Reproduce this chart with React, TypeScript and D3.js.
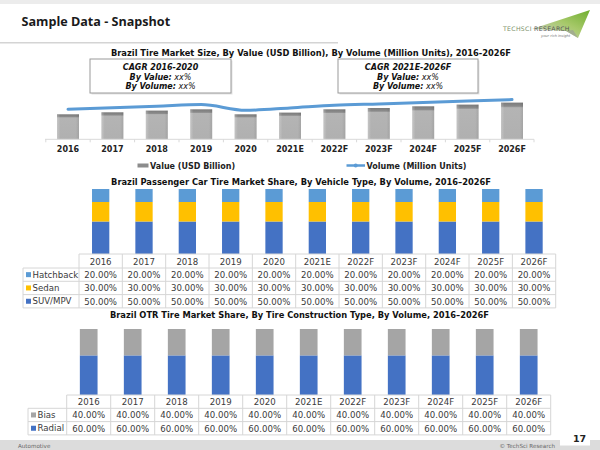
import React from "react";
import * as d3 from "d3";

// ---------- data ----------
const years = ["2016", "2017", "2018", "2019", "2020", "2021E", "2022F", "2023F", "2024F", "2025F", "2026F"];
const valueUSD = [2.5, 2.7, 2.87, 3.0, 2.5, 2.67, 3.0, 3.13, 3.3, 3.47, 3.67];
const volumeUnits = [60, 63, 66, 69.4, 58, 62.6, 68, 70.8, 73.6, 76.4, 79.4];

const pcSeries = ["Hatchback", "Sedan", "SUV/MPV"];
const pcHatchback = [0.2, 0.2, 0.2, 0.2, 0.2, 0.2, 0.2, 0.2, 0.2, 0.2, 0.2];
const pcSedan = [0.3, 0.3, 0.3, 0.3, 0.3, 0.3, 0.3, 0.3, 0.3, 0.3, 0.3];
const pcSuv = [0.5, 0.5, 0.5, 0.5, 0.5, 0.5, 0.5, 0.5, 0.5, 0.5, 0.5];

const otrSeries = ["Bias", "Radial"];
const otrBias = [0.4, 0.4, 0.4, 0.4, 0.4, 0.4, 0.4, 0.4, 0.4, 0.4, 0.4];
const otrRadial = [0.6, 0.6, 0.6, 0.6, 0.6, 0.6, 0.6, 0.6, 0.6, 0.6, 0.6];

const cagrLeft = ["CAGR 2016-2020", "By Value:", "By Volume:"];
const cagrRight = ["CAGR 2021E-2026F", "By Value:", "By Volume:"];

const FONT = "'DejaVu Sans', Verdana, sans-serif";
const pct = d3.format(".2%");

type Series = { name: string; values: number[]; color: string };

function StackTable(props: {
  x0: number; x1: number; labelX: number; barTop: number; tableTop: number;
  headerH: number; rowH: number; barW: number; series: Series[];
}) {
  const { x0, x1, labelX, barTop, tableTop, headerH, rowH, barW, series } = props;
  const x = d3.scaleBand<string>().domain(years).range([x0, x1]).padding(0);
  const y = d3.scaleLinear().domain([0, 1]).range([tableTop, barTop]);
  const stackOrder = [...series].reverse();
  const rows = years.map((yr, i) => {
    const o: any = { year: yr };
    stackOrder.forEach((s) => (o[s.name] = s.values[i]));
    return o;
  });
  const stacked = d3.stack<any>().keys(stackOrder.map((s) => s.name))(rows);
  const bw = x.bandwidth();
  const tableBottom = tableTop + headerH + rowH * series.length;
  const lc = "#d6d6d6";
  return (
    <g>
      {stacked.map((layer, li) => (
        <g key={layer.key} fill={stackOrder[li].color}>
          {layer.map((d, i) => (
            <rect key={i} x={x(years[i])! + bw / 2 - barW / 2} y={y(d[1])} width={barW} height={y(d[0]) - y(d[1])} />
          ))}
        </g>
      ))}
      <g stroke={lc} strokeWidth={1} fill="none">
        <line x1={x0} x2={x1} y1={tableTop} y2={tableTop} />
        <line x1={labelX} x2={x1} y1={tableTop + headerH} y2={tableTop + headerH} />
        {series.map((s, i) => (
          <line key={s.name} x1={labelX} x2={x1} y1={tableTop + headerH + rowH * (i + 1)} y2={tableTop + headerH + rowH * (i + 1)} />
        ))}
        <line x1={labelX} x2={labelX} y1={tableTop + headerH} y2={tableBottom} />
        {years.map((yr) => (
          <line key={yr} x1={x(yr)!} x2={x(yr)!} y1={tableTop} y2={tableBottom} />
        ))}
        <line x1={x1} x2={x1} y1={tableTop} y2={tableBottom} />
      </g>
      <g fontFamily={FONT} fontSize={8.6} fill="#3a3a3a" textAnchor="middle">
        {years.map((yr) => (
          <text key={yr} x={x(yr)! + bw / 2} y={tableTop + headerH - 3.5}>{yr}</text>
        ))}
        {series.map((s, si) =>
          s.values.map((v, i) => (
            <text key={s.name + i} x={x(years[i])! + bw / 2} y={tableTop + headerH + rowH * (si + 1) - 3.3}>{pct(v)}</text>
          ))
        )}
      </g>
      <g fontFamily={FONT} fontSize={8.6} fill="#3a3a3a">
        {series.map((s, si) => {
          const cy = tableTop + headerH + rowH * si + rowH / 2;
          return (
            <g key={s.name}>
              <rect x={labelX + 3} y={cy - 2.5} width={5} height={5} fill={s.color} />
              <text x={labelX + 9.5} y={cy + 3.2}>{s.name}</text>
            </g>
          );
        })}
      </g>
    </g>
  );
}

function CagrBox(props: { x: number; y: number; w: number; h: number; lines: string[] }) {
  const { x, y, w, h, lines } = props;
  const cx = x + w / 2;
  return (
    <g>
      <rect x={x + 1.5} y={y + 1.5} width={w} height={h} fill="#e4e4e4" />
      <rect x={x} y={y} width={w} height={h} fill="#fff" stroke="#9a9a9a" strokeWidth={1} />
      <g fontFamily={FONT} fontSize={8} fontStyle="italic" fill="#111" textAnchor="middle">
        <text x={cx} y={y + 11} fontWeight="bold">{lines[0]}</text>
        <text x={cx} y={y + 20.5}><tspan fontWeight="bold">{lines[1]}</tspan> xx%</text>
        <text x={cx} y={y + 30}><tspan fontWeight="bold">{lines[2]}</tspan> xx%</text>
      </g>
    </g>
  );
}

function TopChart() {
  const base = 139.3;
  const x = d3.scaleBand<string>().domain(years).range([45.8, 534.2]).padding(0);
  const yVal = d3.scaleLinear().domain([0, 4]).range([base, base - 40]);
  const yVol = d3.scaleLinear().domain([0, 80]).range([base, base - 40]);
  const bw = x.bandwidth();
  const barW = 22;
  const line = d3
    .line<number>()
    .x((_, i) => x(years[i])! + bw / 2)
    .y((d) => yVol(d))
    .curve(d3.curveMonotoneX);
  return (
    <g>
      <defs>
        <linearGradient id="barG" x1="0" y1="0" x2="0" y2="1">
          <stop offset="0" stopColor="#7a7a7a" />
          <stop offset="0.1" stopColor="#8c8c8c" />
          <stop offset="0.14" stopColor="#b4b4b4" />
          <stop offset="1" stopColor="#b0b0b0" />
        </linearGradient>
        <linearGradient id="barH" x1="0" y1="0" x2="1" y2="0">
          <stop offset="0" stopColor="#ffffff" stopOpacity="0.25" />
          <stop offset="0.15" stopColor="#ffffff" stopOpacity="0" />
          <stop offset="0.85" stopColor="#000000" stopOpacity="0" />
          <stop offset="1" stopColor="#000000" stopOpacity="0.08" />
        </linearGradient>
      </defs>
      {valueUSD.map((v, i) => {
        const bx = x(years[i])! + bw / 2 - barW / 2;
        return (
          <g key={i}>
            <rect x={bx} y={yVal(v)} width={barW} height={base - yVal(v)} fill="url(#barG)" />
            <rect x={bx} y={yVal(v)} width={barW} height={base - yVal(v)} fill="url(#barH)" />
          </g>
        );
      })}
      <line x1={45} x2={534} y1={base} y2={base} stroke="#d9d9d9" strokeWidth={1} />
      {years.map((yr) => (
        <line key={yr} x1={x(yr)!} x2={x(yr)!} y1={base} y2={base + 3} stroke="#d9d9d9" />
      ))}
      <line x1={534} x2={534} y1={base} y2={base + 3} stroke="#d9d9d9" />
      <path d={line(volumeUnits)!} fill="none" stroke="#5b9bd5" strokeWidth={3} strokeLinecap="round" />
      <g fontFamily={FONT} fontSize={8} fontWeight="bold" fill="#222" textAnchor="middle">
        {years.map((yr) => (
          <text key={yr} x={x(yr)! + bw / 2} y={152}>{yr}</text>
        ))}
      </g>
      <g fontFamily={FONT} fontSize={8} fontWeight="bold" fill="#222">
        <rect x={137.5} y={163.5} width={11} height={4} fill="#8c8c8c" />
        <text x={150} y={168.5}>Value (USD Billion)</text>
        <line x1={346.5} x2={365} y1={165.5} y2={165.5} stroke="#5b9bd5" strokeWidth={2.5} />
        <circle cx={355.7} cy={165.5} r={2} fill="#5b9bd5" />
        <text x={366.5} y={168.5}>Volume (Million Units)</text>
      </g>
    </g>
  );
}

function Logo() {
  return (
    <g>
      <defs>
        <linearGradient id="logoG" x1="0" y1="1" x2="1" y2="0">
          <stop offset="0" stopColor="#d0d0d0" />
          <stop offset="0.55" stopColor="#a7c96a" />
          <stop offset="1" stopColor="#6fae2e" />
        </linearGradient>
      </defs>
      <polygon points="532,29 590,10 578,38 566,31" fill="url(#logoG)" />
      <polygon points="566,31 578,38 573,30" fill="#9a9a9a" opacity="0.6" />
      <text x={503} y={30.5} fontFamily={FONT} fontSize={6.2} fill="#7a8f6a" letterSpacing={0.3}>
        TECHSCI <tspan fill="#555">RESEARCH</tspan>
      </text>
      <text x={541} y={36.5} fontFamily={FONT} fontSize={3.6} fontStyle="italic" fill="#777">
        your rich insight
      </text>
    </g>
  );
}

export default function App() {
  const pc: Series[] = [
    { name: pcSeries[0], values: pcHatchback, color: "#5b9bd5" },
    { name: pcSeries[1], values: pcSedan, color: "#ffc000" },
    { name: pcSeries[2], values: pcSuv, color: "#4472c4" },
  ];
  const otr: Series[] = [
    { name: otrSeries[0], values: otrBias, color: "#a5a5a5" },
    { name: otrSeries[1], values: otrRadial, color: "#4472c4" },
  ];
  return (
    <svg width={600} height={450} style={{ position: "fixed", left: 0, top: 0, display: "block", background: "#fff" }}>
      <rect x={0} y={0} width={600} height={450} fill="#fff" />
      <rect x={0} y={0} width={600} height={4} fill="#ececec" />
      <text x={21.5} y={26} fontFamily="'Open Sans', sans-serif" fontWeight="bold" fontSize={12.6} fill="#1a1a1a">
        Sample Data - Snapshot
      </text>
      <line x1={0} x2={338} y1={42.7} y2={42.7} stroke="#d4d4d4" strokeWidth={1.5} />
      <Logo />

      <text x={311} y={55.5} fontFamily={FONT} fontSize={8.3} fontWeight="bold" fill="#111" textAnchor="middle">
        Brazil Tire Market Size, By Value (USD Billion), By Volume (Million Units), 2016-2026F
      </text>
      <TopChart />
      <CagrBox x={90} y={59} w={141} h={34} lines={cagrLeft} />
      <CagrBox x={338} y={59} w={140} h={34} lines={cagrRight} />

      <text x={301} y={185} fontFamily={FONT} fontSize={8.3} fontWeight="bold" fill="#111" textAnchor="middle">
        Brazil Passenger Car Tire Market Share, By Vehicle Type, By Volume, 2016–2026F
      </text>
      <StackTable x0={79} x1={555.7} labelX={23} barTop={189} tableTop={254} headerH={14} rowH={13.3} barW={17.3} series={pc} />

      <text x={299.5} y={317.7} fontFamily={FONT} fontSize={8.3} fontWeight="bold" fill="#111" textAnchor="middle">
        Brazil OTR Tire Market Share, By Tire Construction Type, By Volume, 2016–2026F
      </text>
      <StackTable x0={66.7} x1={550.7} labelX={28} barTop={329} tableTop={395} headerH={13.3} rowH={13.3} barW={17.7} series={otr} />

      <rect x={0} y={440} width={600} height={10} fill="#dcdcdc" />
      <rect x={560} y={431} width={30} height={14.5} fill="#fff" />
      <text x={18} y={447.5} fontFamily={FONT} fontSize={5.6} fill="#666">Automotive</text>
      <text x={555} y={447.5} fontFamily={FONT} fontSize={5.6} fill="#666" textAnchor="end">© TechSci Research</text>
      <text x={579.5} y={441.5} fontFamily={FONT} fontSize={9.5} fontWeight="bold" fill="#222" textAnchor="middle">17</text>
    </svg>
  );
}
